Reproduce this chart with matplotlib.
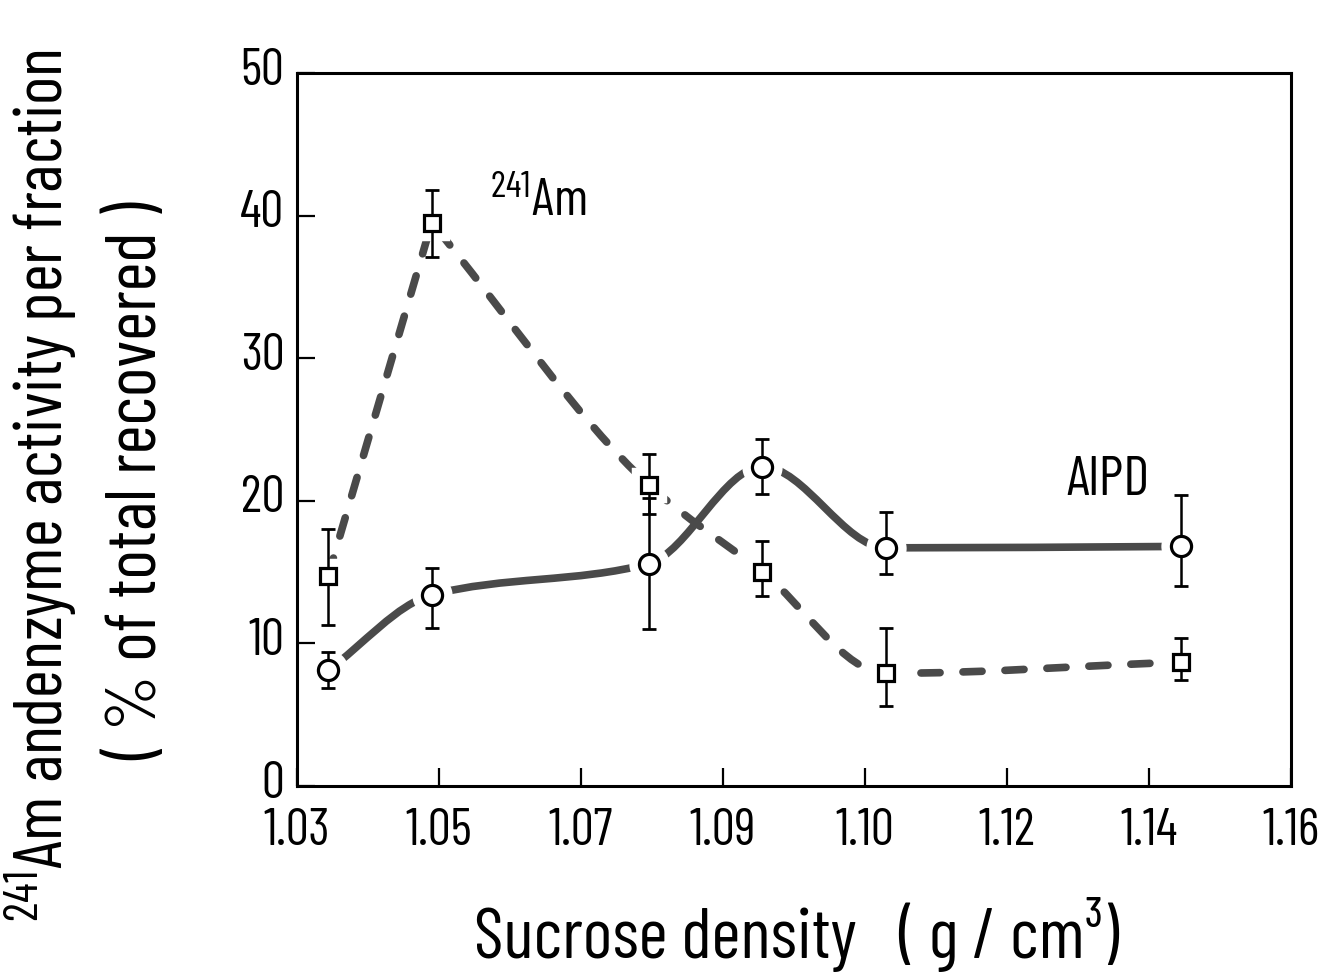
import numpy as np
import matplotlib
matplotlib.use('Agg')
import matplotlib.pyplot as plt
from matplotlib.path import Path
from matplotlib.patches import PathPatch
from matplotlib.transforms import ScaledTranslation

plt.rcParams['font.family'] = ['Barlow Condensed', 'DejaVu Sans']
plt.rcParams['mathtext.default'] = 'regular'

# tick labels sit at evenly spaced positions on the density axis
density_labels = ['1.03', '1.05', '1.07', '1.09', '1.10', '1.12', '1.14', '1.16']

# fraction positions along the axis (in tick units)
fraction_pos = [0.22, 0.95, 2.48, 3.28, 4.15, 6.23]

# 241Am (squares, dashed)
am_val = [14.7, 39.5, 21.1, 15.0, 7.9, 8.7]
am_err_lo = [3.4, 2.4, 2.0, 1.7, 2.3, 1.3]
am_err_hi = [3.3, 2.3, 2.2, 2.2, 3.2, 1.7]

# AlPD (circles, solid)
alpd_val = [8.1, 13.4, 15.6, 22.4, 16.7, 16.8]
alpd_err_lo = [1.2, 2.3, 4.6, 1.9, 1.8, 2.8]
alpd_err_hi = [1.3, 1.9, 4.6, 1.9, 2.5, 3.6]


def pchip_slopes(x, y):
    h = np.diff(x)
    d = np.diff(y) / h
    m = np.zeros(len(x))
    for k in range(1, len(x) - 1):
        if d[k - 1] * d[k] <= 0:
            m[k] = 0.0
        else:
            w1 = 2 * h[k] + h[k - 1]
            w2 = h[k] + 2 * h[k - 1]
            m[k] = (w1 + w2) / (w1 / d[k - 1] + w2 / d[k])
    m[0] = d[0]
    m[-1] = d[-1]
    return m, d


def smooth_path(x, y, corners=()):
    '''Cubic curve through the points; at a corner index the curve keeps a sharp kink.'''
    x = np.asarray(x, float)
    y = np.asarray(y, float)
    m, d = pchip_slopes(x, y)
    verts = [(x[0], y[0])]
    codes = [Path.MOVETO]
    for k in range(len(x) - 1):
        h = (x[k + 1] - x[k]) / 3.0
        m_start = d[k] if k in corners else m[k]
        m_end = d[k] if (k + 1) in corners else m[k + 1]
        verts += [(x[k] + h, y[k] + m_start * h),
                  (x[k + 1] - h, y[k + 1] - m_end * h),
                  (x[k + 1], y[k + 1])]
        codes += [Path.CURVE4] * 3
    return Path(verts, codes)


fig = plt.figure(figsize=(13.34, 9.77), dpi=100)
ax = fig.add_axes([0.2225, 0.1955, 0.745, 0.7298])

curve_col = '#4a4a4a'
ax.add_patch(PathPatch(smooth_path(fraction_pos, am_val, corners=(0, 1)), fill=False,
                       lw=5.5, ls=(0, (2.5, 3.0)), capstyle='round', color=curve_col,
                       zorder=2))
ax.add_patch(PathPatch(smooth_path(fraction_pos, alpd_val), fill=False, lw=5.5,
                       capstyle='round', color=curve_col, zorder=2))

# white clearing round the symbols, so the curves stop short of them
ax.plot(fraction_pos, am_val, ls='none', marker='s', ms=12, mfc='white',
        mec='white', mew=14, zorder=3)
ax.plot(fraction_pos, alpd_val, ls='none', marker='o', ms=15, mfc='white',
        mec='white', mew=14, zorder=3)

ax.errorbar(fraction_pos, am_val, yerr=[am_err_lo, am_err_hi], fmt='none',
            ecolor='black', elinewidth=1.8, capsize=5, capthick=2, zorder=4)
ax.errorbar(fraction_pos, alpd_val, yerr=[alpd_err_lo, alpd_err_hi], fmt='none',
            ecolor='black', elinewidth=1.8, capsize=5, capthick=2, zorder=4)

ax.plot(fraction_pos, am_val, ls='none', marker='s', ms=11, mfc='white',
        mec='black', mew=2.3, zorder=5)
ax.plot(fraction_pos, alpd_val, ls='none', marker='o', ms=14.5, mfc='white',
        mec='black', mew=2.3, zorder=5)

ax.text(1.36, 40.0, '$^{241}$Am', fontsize=38, va='baseline', ha='left')
ax.text(5.42, 20.4, 'AlPD', fontsize=40, va='baseline', ha='left')

ax.set_xlim(0.05, 7.0)
ax.set_ylim(0, 50)
ax.set_xticks(range(len(density_labels)))
ax.set_xticklabels(density_labels)
ax.set_yticks([0, 10, 20, 30, 40, 50])
ax.tick_params(direction='in', length=13, width=1.6, labelsize=37, pad=9)
ax.tick_params(axis='x', pad=16)
for s in ax.spines.values():
    s.set_linewidth(2.2)

# y labels sit a little above their ticks
lift = ScaledTranslation(0, 5 / 72, fig.dpi_scale_trans)
for lab in ax.get_yticklabels():
    lab.set_transform(lab.get_transform() + lift)

fig.text(0.031, 0.503, '$^{241}$Am andenzyme activity per fraction', rotation=90,
         fontsize=49, ha='center', va='center')
fig.text(0.104, 0.508, '( % of total recovered )', rotation=90,
         fontsize=51, ha='center', va='center')
fig.text(0.597, 0.043, 'Sucrose density   ( g / cm³)', fontsize=51,
         ha='center', va='center')

fig.savefig('out.png', dpi=100)
